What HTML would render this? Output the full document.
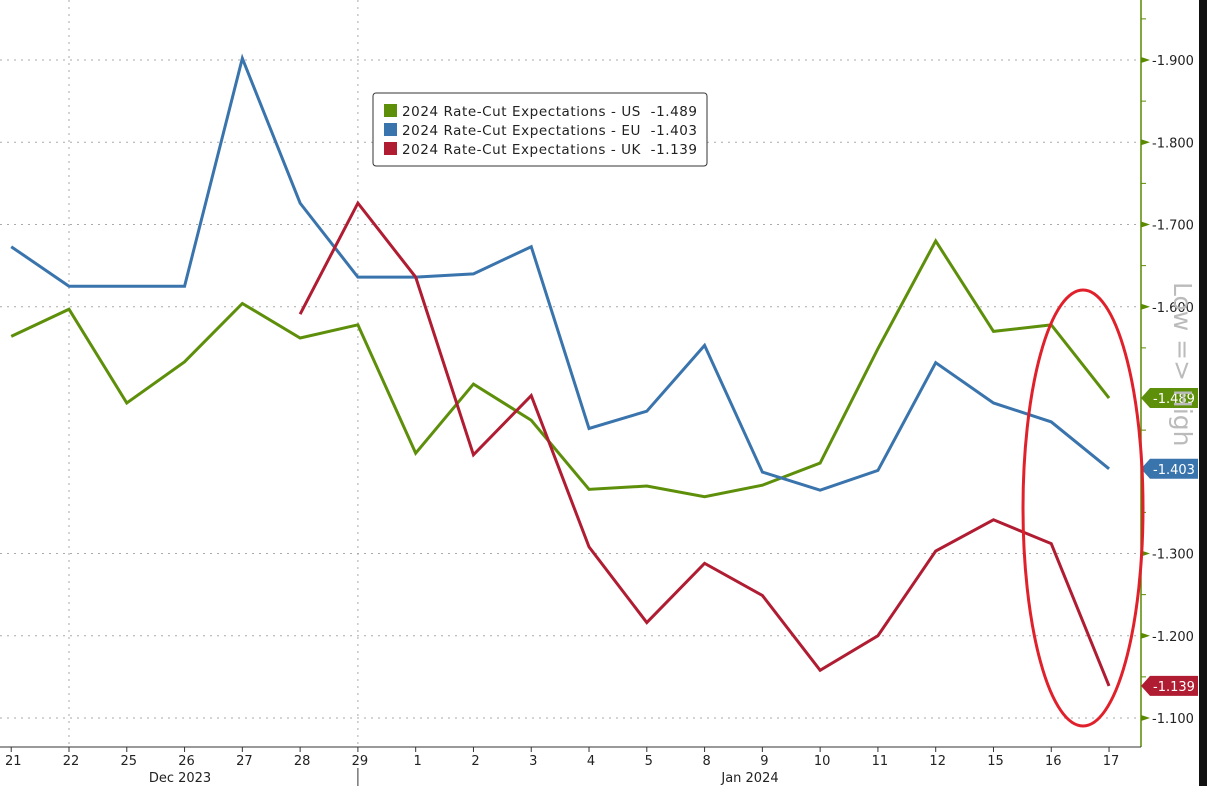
<!DOCTYPE html>
<html><head><meta charset="utf-8"><style>
body{margin:0;background:#fff;width:1207px;height:786px;overflow:hidden;font-family:"DejaVu Sans","Liberation Sans",sans-serif}
svg text{font-family:"DejaVu Sans","Liberation Sans",sans-serif}
</style></head><body>
<svg id="chart" width="1207" height="786" xmlns="http://www.w3.org/2000/svg"></svg>
<script>
const categories=["21","22","25","26","27","28","29","1","2","3","4","5","8","9","10","11","12","15","16","17"];
const usValues=[1.564,1.597,1.483,1.533,1.604,1.562,1.578,1.422,1.506,1.462,1.378,1.382,1.369,1.383,1.410,1.549,1.680,1.570,1.578,1.489];
const euValues=[1.673,1.625,1.625,1.625,1.902,1.726,1.636,1.636,1.640,1.673,1.452,1.473,1.553,1.399,1.377,1.401,1.532,1.483,1.460,1.403];
const ukValues=[null,null,null,null,null,1.591,1.726,1.636,1.420,1.492,1.308,1.216,1.288,1.249,1.158,1.200,1.303,1.341,1.312,1.139];
const yTicks=[1.9,1.8,1.7,1.6,1.3,1.2,1.1];
const yTickLabels=["-1.900","-1.800","-1.700","-1.600","-1.300","-1.200","-1.100"];
const lastLabels=["-1.489","-1.403","-1.139"];
const NS="http://www.w3.org/2000/svg";
const svg=document.getElementById('chart');
function x(i){return 69+(i-1)*57.78;}
function y(v){return 60+(1.9-v)*822.5;}
function el(t,a,p){const e=document.createElementNS(NS,t);for(const k in a)e.setAttribute(k,a[k]);(p||svg).appendChild(e);return e;}
const strip=el('rect',{x:1199,y:0,width:8,height:786,fill:'#111'});

yTicks.forEach((v,k)=>{
 const g=el('line',{x1:0,x2:1141,y1:y(v),y2:y(v),stroke:'#aaa','stroke-dasharray':'2,5'});
 
 const t=el('path',{d:`M1141 ${y(v)-3}L1150 ${y(v)}L1141 ${y(v)+3}Z`,fill:'#5a8a00'});
 
 const tx=el('text',{x:1152,y:y(v)+5,'font-size':13,fill:'#222'});tx.textContent=yTickLabels[k];
 
});
for(let v=1.95;v>1.05;v-=0.1){const m=el('line',{x1:1141,x2:1146,y1:y(v),y2:y(v),stroke:'#5a8a00'});}
[1,6].forEach(i=>{const g=el('line',{x1:x(i),x2:x(i),y1:0,y2:747,stroke:'#aaa','stroke-dasharray':'2,5'});});
const ya=el('line',{x1:1141,x2:1141,y1:0,y2:747,stroke:'#5a8a00','stroke-width':1.5});
const xa=el('line',{x1:0,x2:1141,y1:747,y2:747,stroke:'#333'});
categories.forEach((c,i)=>{
 const t=el('line',{x1:x(i),x2:x(i),y1:747,y2:752,stroke:'#333'});
 const tx=el('text',{x:x(i)+2,y:765,'font-size':13,fill:'#222','text-anchor':'middle'});tx.textContent=c;
 
});
const sep=el('line',{x1:x(6),x2:x(6),y1:768,y2:786,stroke:'#333'});
[["Dec 2023",180],["Jan 2024",750]].forEach(([s,px])=>{const t=el('text',{x:px,y:782,'font-size':13,fill:'#222','text-anchor':'middle'});t.textContent=s;});
const series=[[usValues,'#5e8f0a','us-line'],[euValues,'#3a74ad','eu-line'],[ukValues,'#b01c32','uk-line']];
series.forEach(([vals,col,name],k)=>{
 let d='';vals.forEach((v,i)=>{if(v==null)return;d+=(d?'L':'M')+x(i)+' '+y(v);});
 const p=el('path',{d:d,fill:'none',stroke:col,'stroke-width':3,'stroke-linejoin':'miter'});
 
 const yy=y(vals[vals.length-1]);
 const b=el('path',{d:`M1141 ${yy}L1150 ${yy-10}L1198 ${yy-10}L1198 ${yy+10}L1150 ${yy+10}Z`,fill:col});
 
 const t=el('text',{x:1153,y:yy+5,'font-size':13,fill:'#fff'});t.textContent=lastLabels[k];
 
});
const lh=el('text',{x:1174,y:282,'font-size':25,fill:'#bbb',transform:'rotate(90 1174 282)'});lh.textContent='Low => High';

const e=el('ellipse',{cx:1083,cy:508,rx:60,ry:218,fill:'none',stroke:'#e0202a','stroke-width':3});

const lg=el('g',{});
el('rect',{x:373,y:93,width:334,height:73,rx:3,fill:'#fff',stroke:'#333'},lg);
[['#5e8f0a','2024 Rate-Cut Expectations - US  -1.489'],['#3a74ad','2024 Rate-Cut Expectations - EU  -1.403'],['#b01c32','2024 Rate-Cut Expectations - UK  -1.139']].forEach(([c,s],i)=>{
 const r=el('rect',{x:384,y:104+i*19,width:13,height:13,fill:c},lg);
 const t=el('text',{x:402,y:116+i*19,'font-size':13.5,fill:'#222',textLength:295,lengthAdjust:'spacing',style:'white-space:pre'},lg);t.textContent=s;
 
});
</script>
</body></html>
